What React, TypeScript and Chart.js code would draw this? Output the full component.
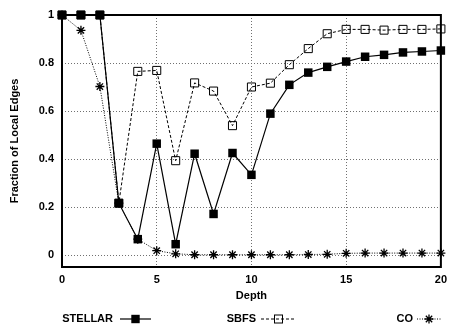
import React, { useEffect, useRef } from 'react';
import { Chart, registerables } from 'chart.js';

Chart.register(...registerables);

const depths = [0, 1, 2, 3, 4, 5, 6, 7, 8, 9, 10, 11, 12, 13, 14, 15, 16, 17, 18, 19, 20];
const stellar = [1, 1, 1, 0.216, 0.066, 0.464, 0.045, 0.422, 0.171, 0.425, 0.334, 0.589, 0.709, 0.76, 0.784, 0.806, 0.826, 0.834, 0.844, 0.848, 0.852];
const sbfs = [1, 1, 1, 0.216, 0.765, 0.769, 0.393, 0.717, 0.683, 0.539, 0.7, 0.716, 0.793, 0.86, 0.922, 0.94, 0.94, 0.937, 0.94, 0.94, 0.942];
const co = [1, 0.936, 0.702, 0.216, 0.066, 0.018, 0.005, 0.001, 0.001, 0.001, 0.001, 0.001, 0.001, 0.002, 0.003, 0.007, 0.008, 0.008, 0.008, 0.008, 0.008];
const yTicks = [0, 0.2, 0.4, 0.6, 0.8, 1];
const xTicks = [0, 5, 10, 15, 20];
const seriesNames = ['STELLAR', 'SBFS', 'CO'];
const xTitle = 'Depth';
const yTitle = 'Fraction of Local Edges';

const FONT = '"Liberation Sans", Arial, Helvetica, sans-serif';

function drawMarker(ctx: CanvasRenderingContext2D, kind: string, x: number, y: number) {
  ctx.save();
  ctx.setLineDash([]);
  ctx.strokeStyle = '#000';
  ctx.fillStyle = '#000';
  ctx.lineWidth = 1;
  if (kind === 'filled') {
    ctx.fillRect(x - 4.2, y - 4.2, 8.4, 8.4);
  } else if (kind === 'open') {
    ctx.strokeRect(x - 4, y - 4, 8, 8);
  } else {
    const r = 4.5;
    const d = r * Math.SQRT1_2;
    ctx.lineWidth = 1.3;
    ctx.beginPath();
    ctx.moveTo(x - r, y); ctx.lineTo(x + r, y);
    ctx.moveTo(x, y - r); ctx.lineTo(x, y + r);
    ctx.moveTo(x - d, y - d); ctx.lineTo(x + d, y + d);
    ctx.moveTo(x - d, y + d); ctx.lineTo(x + d, y - d);
    ctx.stroke();
  }
  ctx.restore();
}

const legendLayout = [
  { textRight: 113, lineStart: 120, lineEnd: 151, dash: [] as number[], marker: 'filled', lw: 1.2 },
  { textRight: 256, lineStart: 261, lineEnd: 296, dash: [3, 2], marker: 'open', lw: 1 },
  { textRight: 413, lineStart: 417, lineEnd: 441, dash: [1, 1.5], marker: 'star', lw: 1 },
];

const framePlugin = {
  id: 'frame',
  beforeDatasetsDraw(chart: any) {
    const { ctx, chartArea } = chart;
    ctx.save();
    ctx.strokeStyle = '#000';
    ctx.lineWidth = 2;
    ctx.setLineDash([]);
    ctx.strokeRect(chartArea.left, chartArea.top, chartArea.right - chartArea.left, chartArea.bottom - chartArea.top);
    ctx.restore();
  },
  afterDraw(chart: any) {
    const { ctx, chartArea } = chart;
    ctx.save();
    ctx.fillStyle = '#000';
    ctx.font = `bold 11px ${FONT}`;
    ctx.textAlign = 'center';
    ctx.textBaseline = 'middle';
    ctx.fillText(xTitle, (chartArea.left + chartArea.right) / 2, 296);
    ctx.save();
    ctx.translate(15, (chartArea.top + chartArea.bottom) / 2);
    ctx.rotate(-Math.PI / 2);
    ctx.fillText(yTitle, 0, 0);
    ctx.restore();

    const ly = 319;
    seriesNames.forEach((name, i) => {
      const L = legendLayout[i];
      ctx.textAlign = 'right';
      ctx.fillStyle = '#000';
      ctx.fillText(name, L.textRight, ly);
      ctx.save();
      ctx.strokeStyle = '#000';
      ctx.lineWidth = L.lw;
      ctx.setLineDash(L.dash);
      ctx.beginPath();
      ctx.moveTo(L.lineStart, ly);
      ctx.lineTo(L.lineEnd, ly);
      ctx.stroke();
      ctx.restore();
      drawMarker(ctx, L.marker, (L.lineStart + L.lineEnd) / 2, ly);
    });
    ctx.restore();
  },
};

export default function App() {
  const ref = useRef<HTMLCanvasElement>(null);
  useEffect(() => {
    if (!ref.current) return;
    const toPts = (arr: number[]) => depths.map((d, i) => ({ x: d, y: arr[i] }));
    const chart = new Chart(ref.current, {
      type: 'line',
      data: {
        datasets: [
          {
            label: seriesNames[0],
            data: toPts(stellar),
            borderColor: '#000',
            borderWidth: 1.2,
            backgroundColor: '#000',
            pointStyle: 'rect',
            pointRadius: 6,
            pointBorderWidth: 0,
            pointBackgroundColor: '#000',
            clip: false,
          },
          {
            label: seriesNames[1],
            data: toPts(sbfs),
            borderColor: '#000',
            borderWidth: 1,
            borderDash: [3, 2],
            pointStyle: 'rect',
            pointRadius: 5.7,
            pointBorderWidth: 1,
            pointBorderColor: '#000',
            pointBackgroundColor: 'rgba(0,0,0,0)',
            backgroundColor: 'rgba(0,0,0,0)',
            clip: false,
          },
          {
            label: seriesNames[2],
            data: toPts(co),
            borderColor: '#000',
            borderWidth: 1,
            borderDash: [1, 1.5],
            pointStyle: 'star',
            pointRadius: 4.5,
            pointBorderWidth: 1.3,
            pointBorderColor: '#000',
            backgroundColor: 'rgba(0,0,0,0)',
            clip: false,
          },
        ],
      },
      options: {
        animation: false,
        responsive: false,
        maintainAspectRatio: false,
        layout: { padding: { left: 0, top: 15, right: 9, bottom: 0 } },
        plugins: { legend: { display: false }, tooltip: { enabled: false } },
        elements: { line: { tension: 0 } },
        scales: {
          x: {
            type: 'linear',
            min: 0,
            max: 20,
            afterBuildTicks: (s: any) => { s.ticks = xTicks.map((v) => ({ value: v })); },
            afterFit: (s: any) => { s.height = 58; },
            grid: { color: '#707070', lineWidth: 1, drawTicks: false },
            border: { display: false, dash: [1, 2] },
            ticks: {
              color: '#000',
              font: { family: FONT, size: 11, weight: 'bold' },
              padding: 6,
              maxRotation: 0,
              callback: (v: any) => String(v),
            },
          },
          y: {
            type: 'linear',
            min: -0.05,
            max: 1,
            afterBuildTicks: (s: any) => { s.ticks = yTicks.map((v) => ({ value: v })); },
            afterFit: (s: any) => { s.width = 62; },
            grid: { color: '#707070', lineWidth: 1, drawTicks: false },
            border: { display: false, dash: [1, 2] },
            ticks: {
              color: '#000',
              font: { family: FONT, size: 11, weight: 'bold' },
              padding: 8,
              callback: (v: any) => String(Math.round(Number(v) * 10) / 10),
            },
          },
        },
      },
      plugins: [framePlugin],
    });
    return () => chart.destroy();
  }, []);
  return (
    <div style={{ position: 'absolute', left: 0, top: 0, width: 453, height: 325, background: '#fff' }}>
      <canvas ref={ref} width={453} height={325} style={{ width: 453, height: 325, display: 'block' }} />
    </div>
  );
}
